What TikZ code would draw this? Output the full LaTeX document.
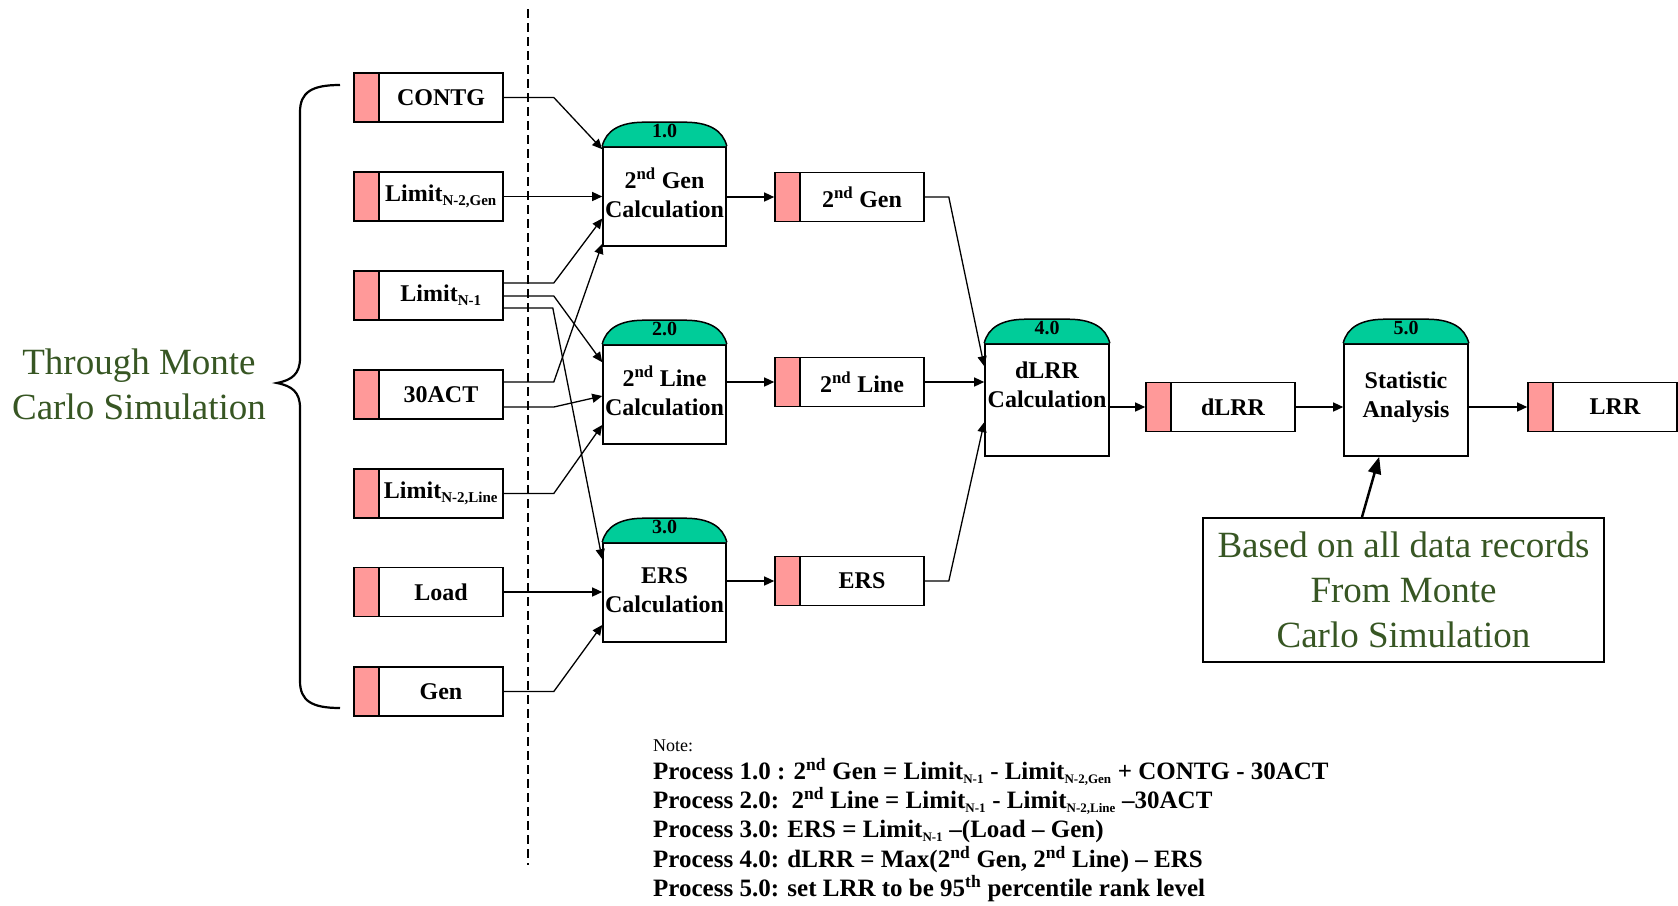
\documentclass[tikz,border=0pt]{standalone}
\usepackage{fontspec}
\setmainfont{Liberation Serif}
\usetikzlibrary{arrows.meta,calc}
\definecolor{pinkc}{RGB}{255,153,153}
\definecolor{capc}{RGB}{0,204,153}
\definecolor{txtg}{RGB}{55,86,35}
\newcommand\stl[1]{\hspace*{25pt}\makebox[124pt]{#1}}
\newcommand\lsub[1]{\textsubscript{\fontsize{15pt}{15pt}\selectfont #1}}
\newcommand\nsub[1]{\textsubscript{\fontsize{13pt}{13pt}\selectfont #1}}
\newcommand\proccap[2]{%
  \path[draw=black, fill=capc, line width=1.5pt] (#1.north west)
    .. controls ($(#1.north west)+(4,-16)$) and ($(#1.north west)+(18,-24)$) .. ($(#1.north west)+(42,-24)$)
    -- ($(#1.north east)+(-42,-24)$)
    .. controls ($(#1.north east)+(-18,-24)$) and ($(#1.north east)+(-4,-16)$) .. (#1.north east);
  \node[captext] (#1cap) at ($(#1.north)+(0,-15)$) {#2};}
\begin{document}
\begin{tikzpicture}[x=1pt,y=-1pt,
  conn/.style={line width=1.3pt, -{Triangle[length=10pt,width=9pt]}},
  store/.style={draw, line width=1.6pt, minimum width=149pt, minimum height=49pt, inner sep=0pt,
    font=\bfseries\fontsize{24pt}{28pt}\selectfont,
    path picture={\fill[pinkc] (path picture bounding box.south west) rectangle ([xshift=25pt]path picture bounding box.north west);
      \draw[line width=1.6pt] ([xshift=25pt]path picture bounding box.south west) -- ([xshift=25pt]path picture bounding box.north west);}},
  proc/.style={draw, fill=white, line width=1.6pt, minimum width=123pt, minimum height=99pt, inner sep=0pt, align=center,
    font=\bfseries\fontsize{24pt}{29pt}\selectfont},
  proctext/.style={inner sep=0pt, align=center, font=\bfseries\fontsize{24pt}{29pt}\selectfont},
  captext/.style={font=\bfseries\fontsize{20pt}{20pt}\selectfont, inner sep=0pt},
  greentext/.style={text=txtg, font=\fontsize{37pt}{45pt}\selectfont, align=center, inner sep=0pt}]
\useasboundingbox (0,0) rectangle (1678,905);

% divider
\coordinate (dtop) at (528,9);
\coordinate (dbot) at (528,865);
\draw[line width=1.2pt, dash pattern=on 9pt off 5pt] (dtop) -- (dbot);

% input stores
\node[store] (cont) at (428.5,97.5) {\stl{CONTG}};
\node[store] (lgen) at (428.5,196.5) {\stl{Limit\lsub{N-2,Gen}}};
\node[store] (ln1) at (428.5,295.5) {\stl{Limit\lsub{N-1}}};
\node[store] (act) at (428.5,394.5) {\stl{30ACT}};
\node[store] (lline) at (428.5,493.5) {\stl{Limit\lsub{N-2,Line}}};
\node[store] (load) at (428.5,592) {\stl{Load}};
\node[store] (gen) at (428.5,691.5) {\stl{Gen}};

% processes
\node[proc] (p1) at (664.5,196.5) {};
\node[proctext] (p1t) at (664.5,193) {2\textsuperscript{nd} Gen\\Calculation};
\node[proc] (p2) at (664.5,394.5) {};
\node[proctext] (p2t) at (664.5,391) {2\textsuperscript{nd} Line\\Calculation};
\node[proc] (p3) at (664.5,592.5) {};
\node[proctext] (p3t) at (664.5,590) {ERS\\Calculation};
\node[proc, minimum width=124pt, minimum height=112pt] (p4) at (1047,400) {};
\node[proctext] (p4t) at (1047,385) {dLRR\\Calculation};
\node[proc, minimum width=124pt, minimum height=112pt] (p5) at (1406,400) {};
\node[proctext] (p5t) at (1406,397) {Statistic\\Analysis};
\proccap{p1}{1.0}
\proccap{p2}{2.0}
\proccap{p3}{3.0}
\proccap{p4}{4.0}
\proccap{p5}{5.0}

% intermediate stores
\node[store] (s2gen) at (849.5,197) {\stl{2\textsuperscript{nd} Gen}};
\node[store] (s2line) at (849.5,382) {\stl{2\textsuperscript{nd} Line}};
\node[store] (sers) at (849.5,581) {\stl{ERS}};
\node[store] (sdlrr) at (1220.5,407) {\stl{dLRR}};
\node[store] (slrr) at (1602.5,407) {\stl{LRR}};

% inputs to processes
\draw[conn] (cont.east) -- ($(cont.east)+(50,0)$) -- ($(p1.north west)+(0,3)$);
\draw[conn] (lgen.east) -- (lgen.east -| p1.west);
\draw[conn] ($(ln1.east)+(0,-12.5)$) -- ($(ln1.east)+(50,-12.5)$) -- ($(p1.west)+(0,22)$);
\draw[conn] ($(ln1.east)+(0,0.5)$) -- ($(ln1.east)+(50,0.5)$) -- ($(p2.north west)+(0,18)$);
\draw[conn] ($(ln1.east)+(0,12.5)$) -- ($(ln1.east)+(49,12.5)$) -- ($(p3.north west)+(0,17)$);
\draw[conn] ($(act.east)+(0,-12.5)$) -- ($(act.east)+(50,-12.5)$) -- ($(p1.south west)+(0,-3)$);
\draw[conn] ($(act.east)+(0,12.5)$) -- ($(act.east)+(50,12.5)$) -- ($(p2.west)+(0,1.5)$);
\draw[conn] (lline.east) -- ($(lline.east)+(50,0)$) -- ($(p2.west)+(0,30.5)$);
\draw[conn] (load.east) -- (load.east -| p3.west);
\draw[conn] (gen.east) -- ($(gen.east)+(50,0)$) -- ($(p3.west)+(0,32.5)$);

% processes to stores
\draw[conn] (p1.east |- s2gen.west) -- (s2gen.west);
\draw[conn] (p2.east |- s2line.west) -- (s2line.west);
\draw[conn] (p3.east |- sers.west) -- (sers.west);
\draw[conn] (s2gen.east) -- ($(s2gen.east)+(24,0)$) -- ($(p4.north west)+(0,23)$);
\draw[conn] (s2line.east) -- (s2line.east -| p4.west);
\draw[conn] (sers.east) -- ($(sers.east)+(24,0)$) -- ($(p4.north west)+(0,79)$);
\draw[conn] (p4.east |- sdlrr.west) -- (sdlrr.west);
\draw[conn] (sdlrr.east) -- (sdlrr.east -| p5.west);
\draw[conn] (p5.east |- slrr.west) -- (slrr.west);

% left brace and label
\draw[line width=2.2pt] (340,85) .. controls (312,85) and (300,92) .. (300,112) -- (300,358)
  .. controls (300,374) and (292,380) .. (277,383)
  .. controls (292,386) and (300,392) .. (300,408) -- (300,681)
  .. controls (300,701) and (312,708) .. (340,708);
\node[greentext] (mc) at (139,384) {Through Monte\\Carlo Simulation};

% note box
\node[draw, line width=2pt, minimum width=401pt, minimum height=144pt, greentext, inner sep=0pt] (nb) at (1403.5,590) {Based on all data records\\From Monte\\Carlo Simulation};
\draw[line width=2.5pt, -{Triangle[length=17pt,width=13pt]}] ($(nb.north west)+(160,0)$) -- ($(p5.south west)+(36,0)$);

% notes
\node[anchor=west, inner sep=0pt, font=\fontsize{18pt}{20pt}\selectfont] (nt) at (653,746) {Note:};
\node[anchor=north west, align=left, inner sep=0pt, font=\bfseries\fontsize{25pt}{29.3pt}\selectfont] (nl) at (653,758) {%
Process 1.0 : 2\textsuperscript{nd} Gen = Limit\nsub{N-1} - Limit\nsub{N-2,Gen} + CONTG - 30ACT\\
Process 2.0:\ \ 2\textsuperscript{nd} Line = Limit\nsub{N-1} - Limit\nsub{N-2,Line} --30ACT\\
Process 3.0: ERS = Limit\nsub{N-1} --(Load -- Gen)\\
Process 4.0: dLRR = Max(2\textsuperscript{nd} Gen, 2\textsuperscript{nd} Line) -- ERS\\
Process 5.0: set LRR to be 95\textsuperscript{th} percentile rank level};
\end{tikzpicture}
\end{document}
